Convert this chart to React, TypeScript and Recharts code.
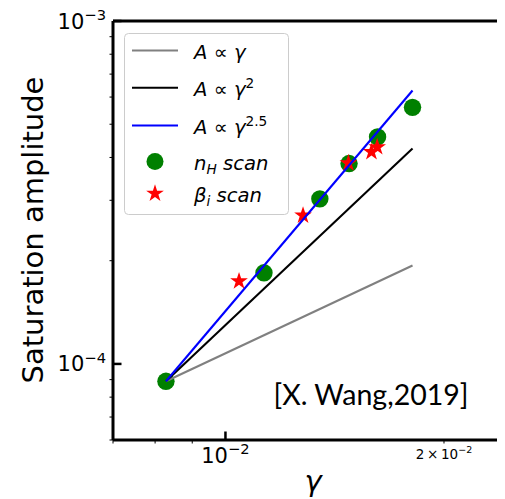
import React from 'react';
import { ScatterChart, Scatter, XAxis, YAxis, ReferenceLine, Legend, Label } from 'recharts';

// ---- data (log-log) ----
const nHScan = [
  { x: 0.00828, y: 8.9e-5 },
  { x: 0.0113, y: 1.844e-4 },
  { x: 0.01349, y: 3.03e-4 },
  { x: 0.0148, y: 3.84e-4 },
  { x: 0.0162, y: 4.59e-4 },
  { x: 0.0181, y: 5.6e-4 },
];
const betaScan = [
  { x: 0.01044, y: 1.743e-4 },
  { x: 0.01279, y: 2.71e-4 },
  { x: 0.01477, y: 3.85e-4 },
  { x: 0.01589, y: 4.15e-4 },
  { x: 0.01618, y: 4.29e-4 },
];
const lineGamma1 = [
  { x: 0.00828, y: 8.9e-5 },
  { x: 0.0181, y: 1.937e-4 },
];
const lineGamma2 = [
  { x: 0.00828, y: 8.9e-5 },
  { x: 0.0181, y: 4.246e-4 },
];
const lineGamma25 = [
  { x: 0.00828, y: 8.9e-5 },
  { x: 0.0181, y: 6.27e-4 },
];

const xDomain = [0.007, 0.02427];
const yDomain = [6e-5, 1e-3];
const xTicks = [0.007, 0.008, 0.009, 0.01, 0.02];
const xMajor = [0.01];
const yTicks = [6e-5, 7e-5, 8e-5, 9e-5, 1e-4, 2e-4, 3e-4, 4e-4, 5e-4, 6e-4, 7e-4, 8e-4, 9e-4, 1e-3];
const yMajor = [1e-4, 1e-3];
const xTickLabels = [
  { value: 0.01, base: '10', exp: '\u22122', major: true },
  { value: 0.02, base: '2\u2009\u00d7\u200910', exp: '\u22122', major: false },
];
const yTickLabels = [
  { value: 1e-4, base: '10', exp: '\u22124' },
  { value: 1e-3, base: '10', exp: '\u22123' },
];

const FONT = '"DejaVu Sans", sans-serif';
const GREEN = '#008000';
const RED = '#ff0000';

const same = (a: number, b: number) => Math.abs(a - b) < 1e-12;

const XTick = (props: any) => {
  const { x, y, payload } = props;
  const v = payload.value;
  const major = xMajor.some((m) => same(m, v));
  const lab = xTickLabels.find((l) => same(l.value, v));
  return (
    <g>
      {major ? (
        <line x1={x} x2={x} y1={y} y2={y - 8.5} stroke="#000" strokeWidth={2.5} />
      ) : (
        <line x1={x} x2={x} y1={y} y2={y + 3.5} stroke="#000" strokeWidth={1} />
      )}
      {lab && lab.major && (
        <text x={x} y={y + 22.5} textAnchor="middle" fontFamily={FONT} fontSize={21} fill="#000">
          <tspan>{lab.base}</tspan>
          <tspan dy={-8.6} fontSize={14.7}>{lab.exp}</tspan>
        </text>
      )}
      {lab && !lab.major && (
        <text x={x} y={y + 18.5} textAnchor="middle" fontFamily={FONT} fontSize={13.5} fill="#000">
          <tspan>{lab.base}</tspan>
          <tspan dy={-5.6} fontSize={9.5}>{lab.exp}</tspan>
        </text>
      )}
    </g>
  );
};

const YTick = (props: any) => {
  const { x, y, payload } = props;
  const v = payload.value;
  const major = yMajor.some((m) => same(m, v));
  const lab = yTickLabels.find((l) => same(l.value, v));
  return (
    <g>
      {major ? (
        <line x1={x} x2={x + 8.5} y1={y} y2={y} stroke="#000" strokeWidth={2.5} />
      ) : (
        <line x1={x} x2={x - 3.5} y1={y} y2={y} stroke="#000" strokeWidth={1} />
      )}
      {lab && (
        <text x={x - 7} y={y + 7.5} textAnchor="end" fontFamily={FONT} fontSize={21} fill="#000">
          <tspan>{lab.base}</tspan>
          <tspan dy={-8.6} fontSize={14.7}>{lab.exp}</tspan>
        </text>
      )}
    </g>
  );
};

const starPoints = (cx: number, cy: number, R: number) => {
  const r = R * 0.381966;
  const pts: string[] = [];
  for (let i = 0; i < 10; i++) {
    const rad = i % 2 === 0 ? R : r;
    const a = -Math.PI / 2 + (i * Math.PI) / 5;
    pts.push(`${cx + rad * Math.cos(a)},${cy + rad * Math.sin(a)}`);
  }
  return pts.join(' ');
};

const Star = (props: any) => {
  const { cx, cy } = props;
  if (cx == null || cy == null) return <g />;
  return <polygon points={starPoints(cx, cy, 9.3)} fill={RED} />;
};

const Dot = (props: any) => {
  const { cx, cy } = props;
  if (cx == null || cy == null) return <g />;
  return <circle cx={cx} cy={cy} r={8.7} fill={GREEN} />;
};

const NoShape = () => <g />;

const legendEntries = [
  { kind: 'line', color: '#808080', name: 'gamma1' },
  { kind: 'line', color: '#000000', name: 'gamma2' },
  { kind: 'line', color: '#0000ff', name: 'gamma25' },
  { kind: 'dot', color: GREEN, name: 'nH' },
  { kind: 'star', color: RED, name: 'beta' },
];
const legendRowsY = [17.5, 54.8, 92.5, 128.5, 160.5];

const LegendText = ({ name, x, y }: { name: string; x: number; y: number }) => {
  const common = { fontFamily: FONT, fontSize: 19.6, fill: '#000' } as const;
  if (name === 'gamma1' || name === 'gamma2' || name === 'gamma25') {
    const exp = name === 'gamma2' ? '2' : name === 'gamma25' ? '2.5' : '';
    return (
      <text x={x} y={y} {...common}>
        <tspan fontStyle="italic">A</tspan>
        <tspan> {'\u221d'} </tspan>
        <tspan fontStyle="italic">{'\u03b3'}</tspan>
        {exp && (
          <tspan dy={-8} fontSize={13.7}>
            {exp}
          </tspan>
        )}
      </text>
    );
  }
  const main = name === 'nH' ? 'n' : '\u03b2';
  const sub = name === 'nH' ? 'H' : 'i';
  return (
    <text x={x} y={y} {...common} fontStyle="italic">
      <tspan>{main}</tspan>
      <tspan dy={4} fontSize={13.7}>
        {sub}
      </tspan>
      <tspan dy={-4}> scan</tspan>
    </text>
  );
};

const LegendBox = () => (
  <svg width={167} height={184} style={{ display: 'block' }}>
    <rect x={0.5} y={0.5} width={164} height={181} rx={4} ry={4} fill="rgba(255,255,255,0.8)" stroke="#cccccc" strokeWidth={1} />
    {legendEntries.map((e, i) => {
      const y = legendRowsY[i];
      return (
        <g key={e.name}>
          {e.kind === 'line' && <line x1={8} x2={54} y1={y} y2={y} stroke={e.color} strokeWidth={2.1} />}
          {e.kind === 'dot' && <circle cx={31} cy={y} r={8.5} fill={e.color} />}
          {e.kind === 'star' && <polygon points={starPoints(31, y, 9.3)} fill={e.color} />}
          <LegendText name={e.name} x={70} y={y + 8.3} />
        </g>
      );
    })}
  </svg>
);

export default function App() {
  return (
    <div style={{ width: 505, height: 499, marginTop: -8, marginLeft: -8 }}>
      <ScatterChart width={505} height={499} margin={{ top: 21, right: 0, bottom: 0, left: 0 }}>
        <XAxis
          dataKey="x"
          type="number"
          scale="log"
          domain={xDomain}
          allowDataOverflow
          ticks={xTicks}
          interval={0}
          tick={<XTick />}
          tickLine={false}
          tickSize={0}
          tickMargin={0}
          height={59}
          axisLine={{ stroke: '#000', strokeWidth: 3 }}
          label={{
            content: () => (
              <text x={313} y={491} textAnchor="middle" fontFamily={FONT} fontSize={29} fontStyle="italic" fill="#000">
                {'\u03b3'}
              </text>
            ),
          }}
        />
        <YAxis
          dataKey="y"
          type="number"
          scale="log"
          domain={yDomain}
          allowDataOverflow
          ticks={yTicks}
          interval={0}
          tick={<YTick />}
          tickLine={false}
          tickSize={0}
          tickMargin={0}
          width={113}
          axisLine={{ stroke: '#000', strokeWidth: 3 }}
          label={{
            content: () => (
              <text x={43} y={230} transform="rotate(-90 43 230)" textAnchor="middle" fontFamily={FONT} fontSize={29} fill="#000">
                Saturation amplitude
              </text>
            ),
          }}
        />
        <ReferenceLine y={1e-3} stroke="#000" strokeWidth={3} ifOverflow="visible">
          <Label
            content={() => (
              <text x={273.5} y={405} fontFamily="Lato, sans-serif" fontSize={29} fill="#000" textLength={195} lengthAdjust="spacingAndGlyphs">
                [X. Wang,2019]
              </text>
            )}
          />
        </ReferenceLine>
        <Scatter name="nH scan" data={nHScan} shape={<Dot />} isAnimationActive={false} />
        <Scatter name="beta scan" data={betaScan} shape={<Star />} isAnimationActive={false} />
        <Scatter name="A ~ gamma" data={lineGamma1} shape={<NoShape />} line={{ stroke: '#808080', strokeWidth: 2.1 }} isAnimationActive={false} />
        <Scatter name="A ~ gamma^2" data={lineGamma2} shape={<NoShape />} line={{ stroke: '#000000', strokeWidth: 2.1 }} isAnimationActive={false} />
        <Scatter name="A ~ gamma^2.5" data={lineGamma25} shape={<NoShape />} line={{ stroke: '#0000ff', strokeWidth: 2.1 }} isAnimationActive={false} />
        <Legend
          layout="horizontal"
          verticalAlign="middle"
          align="center"
          content={<LegendBox />}
          wrapperStyle={{ left: 124, top: 32.5, width: 167, height: 184 }}
        />
      </ScatterChart>
    </div>
  );
}
